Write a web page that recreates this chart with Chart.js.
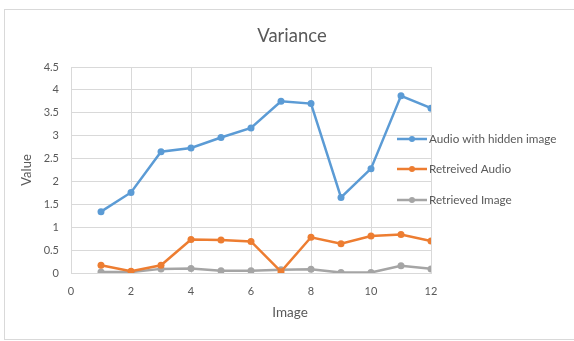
<!DOCTYPE html>
<html>
<head>
<meta charset="utf-8">
<script src="https://cdn.jsdelivr.net/npm/chart.js@4"></script>
<style>
  html, body { margin: 0; padding: 0; background: #fff; }
  #wrap { position: relative; width: 574px; height: 341px; }
  #frame { position: absolute; left: 4px; top: 9px; width: 580px; height: 329px; border: 1px solid #d9d9d9; }
  canvas { position: absolute; left: 0; top: 0; }
</style>
</head>
<body>
<div id="wrap">
  <div id="frame"></div>
  <canvas id="chart" width="574" height="341"></canvas>
</div>
<script>
// values
const images = [1, 2, 3, 4, 5, 6, 7, 8, 9, 10, 11, 12];
const audioHidden = [1.34, 1.76, 2.65, 2.73, 2.96, 3.17, 3.75, 3.70, 1.65, 2.28, 3.87, 3.60];
const retrievedAudio = [0.17, 0.04, 0.17, 0.73, 0.72, 0.69, 0.03, 0.78, 0.64, 0.81, 0.84, 0.70];
const retrievedImage = [0.02, 0.02, 0.09, 0.10, 0.05, 0.05, 0.07, 0.08, 0.01, 0.01, 0.16, 0.09];
const seriesNames = ['Audio with hidden image', 'Retreived Audio', 'Retrieved Image'];
const seriesColors = ['#5b9bd5', '#ed7d31', '#a5a5a5'];
const chartTitle = 'Variance';
const xTitle = 'Image';

const txt = '#595959';
const grid = '#d9d9d9';
const fam = 'Lato, "Open Sans", sans-serif';

function pts(vals)
{
  return images.map((x, i) => ({x: x, y: vals[i]}));
}

function ds(i, vals)
{
  return {
    label: seriesNames[i],
    data: pts(vals),
    borderColor: seriesColors[i],
    backgroundColor: seriesColors[i],
    borderWidth: 2.5,
    pointRadius: 3.5,
    pointBorderWidth: 0,
    tension: 0
  };
}

// title, x title and legend sit where the original puts them
const extras = {
  id: 'extras',
  afterDraw(chart)
  {
    const ctx = chart.ctx;
    ctx.save();
    ctx.fillStyle = txt;
    ctx.textAlign = 'center';
    ctx.textBaseline = 'middle';
    ctx.font = '18.5px ' + fam;
    ctx.fillText(chartTitle, 292, 36);
    ctx.font = '13.5px ' + fam;
    ctx.fillText(xTitle, 290, 313);

    const ys = [139, 169, 200];
    chart.data.datasets.forEach((d, i) => {
      const y = ys[i];
      ctx.strokeStyle = d.borderColor;
      ctx.lineWidth = 2.5;
      ctx.beginPath();
      ctx.moveTo(397, y);
      ctx.lineTo(427, y);
      ctx.stroke();
      ctx.fillStyle = d.borderColor;
      ctx.beginPath();
      ctx.arc(412, y, 3, 0, Math.PI * 2);
      ctx.fill();
      ctx.fillStyle = txt;
      ctx.font = '11.7px ' + fam;
      ctx.textAlign = 'left';
      ctx.fillText(d.label, 429, y);
    });
    ctx.restore();
  }
};

new Chart(document.getElementById('chart'), {
  type: 'line',
  data: {
    datasets: [ds(0, audioHidden), ds(1, retrievedAudio), ds(2, retrievedImage)]
  },
  plugins: [extras],
  options: {
    responsive: false,
    animation: false,
    layout: {padding: {left: 0, right: 143, top: 67, bottom: 0}},
    plugins: {
      legend: {display: false},
      tooltip: {enabled: false},
      title: {display: false}
    },
    scales: {
      x: {
        type: 'linear',
        min: 0,
        max: 12,
        afterFit: (s) => { s.height = 68; },
        ticks: {stepSize: 2, color: txt, padding: 12, font: {family: fam, size: 11}},
        grid: {color: grid, drawTicks: false},
        border: {color: grid}
      },
      y: {
        min: 0,
        max: 4.5,
        afterFit: (s) => { s.width = 71; },
        ticks: {stepSize: 0.5, color: txt, padding: 12, font: {family: fam, size: 11}, callback: (v) => String(v)},
        grid: {color: grid, drawTicks: false},
        border: {color: grid},
        title: {display: true, text: 'Value', color: txt, font: {family: fam, size: 13}, padding: {top: 19, bottom: 4}}
      }
    }
  }
});
</script>
</body>
</html>
